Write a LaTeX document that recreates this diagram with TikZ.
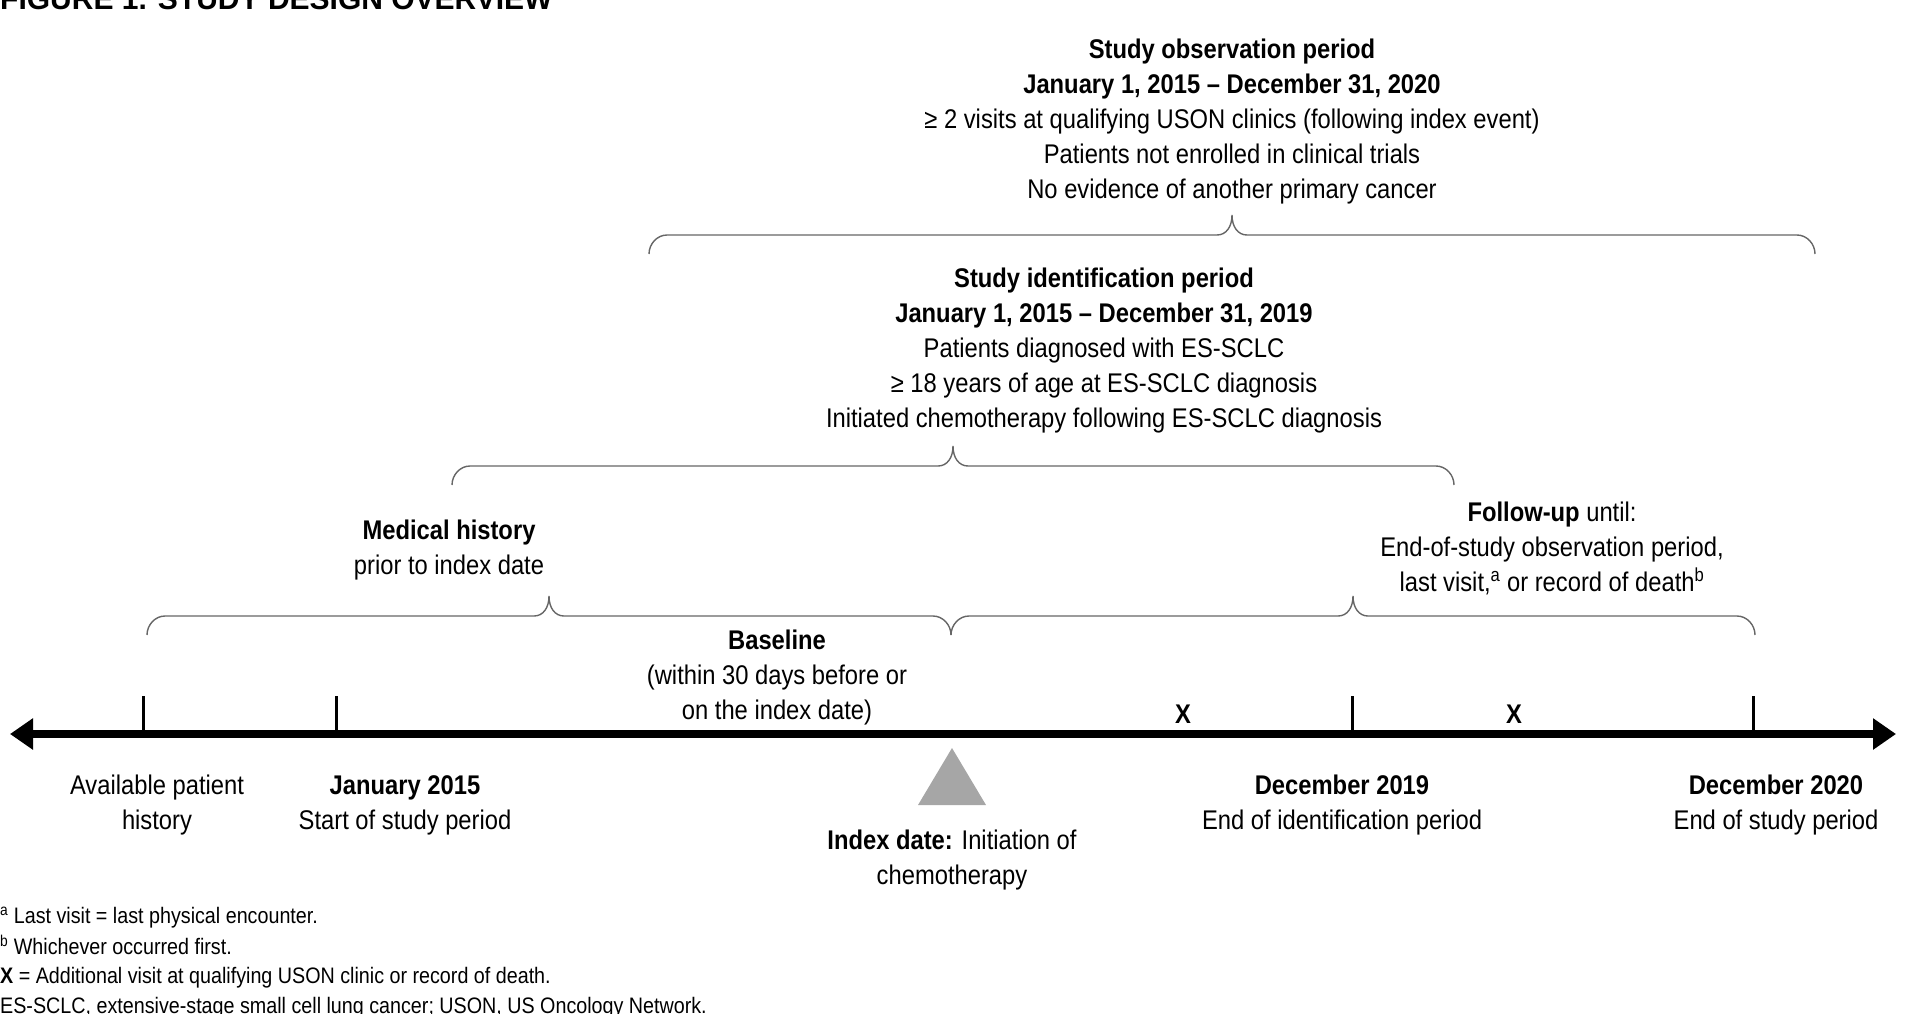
\documentclass[tikz,border=0pt]{standalone}
\usepackage{fontspec}
\setmainfont[FakeStretch=0.88]{Liberation Sans}
\newfontfamily\titlefont{Liberation Sans}
\usetikzlibrary{arrows.meta,calc}

\begin{document}
\begin{tikzpicture}[x=1pt,y=-1pt,
    txt/.style={align=center,inner sep=0pt,anchor=base,font=\fontsize{27}{35}\selectfont},
    note/.style={anchor=base west,inner sep=0pt,font=\fontsize{22.4}{30}\selectfont},
    brc/.style={draw=black!60,line width=1.4pt},
    tck/.style={line width=3pt},
    >={Triangle[length=23pt,width=30pt]}]

    \useasboundingbox (0,0) rectangle (1916,1013);

    % title (cut at the top edge)
    \node[anchor=base west,inner sep=0pt,font=\titlefont\bfseries\fontsize{30}{30}\selectfont] (title) at (0,9) {FIGURE 1. STUDY DESIGN OVERVIEW};

    % time axis
    \coordinate (ax1) at (10,734);
    \coordinate (ax2) at (1896,734);
    \coordinate (t1) at (143,734);
    \coordinate (t2) at (336,734);
    \coordinate (idx) at (952,734);
    \coordinate (t3) at (1352,734);
    \coordinate (t4) at (1753,734);
    \draw[line width=8pt,<->] (ax1) -- (ax2);
    \foreach \t in {t1,t2,t3,t4}
        \draw[tck] (\t) -- ++(0,-38);
    \node[inner sep=0pt,font=\bfseries\fontsize{27}{27}\selectfont] (x1) at (1183,714) {X};
    \node[inner sep=0pt,font=\bfseries\fontsize{27}{27}\selectfont] (x2) at (1514,714) {X};
    \fill[black!35] ($(idx)+(0,14)$) -- ++(34,57) -- ++(-68,0) -- cycle;

    % braces
    \coordinate (b1) at (147,635);
    \coordinate (b2) at (951,635);
    \coordinate (b3) at (1755,635);
    \coordinate (m1) at (452,485);
    \coordinate (m2) at (1454,485);
    \coordinate (o1) at (649,254);
    \coordinate (o2) at (1815,254);
    \foreach \a/\b in {b1/b2,b2/b3,m1/m2,o1/o2}
        \draw[brc] let \p1=(\a), \p2=(\b), \n1={(\x1+\x2)/2} in
            (\p1) .. controls (\x1,\y1+10pt) and (\x1+8pt,\y1+19pt) .. (\x1+18pt,\y1+19pt)
            -- (\n1-15pt,\y1+19pt)
            .. controls (\n1-6pt,\y1+19pt) and (\n1,\y1+27pt) .. (\n1,\y1+39pt)
            .. controls (\n1,\y1+27pt) and (\n1+6pt,\y1+19pt) .. (\n1+15pt,\y1+19pt)
            -- (\x2-18pt,\y2+19pt)
            .. controls (\x2-8pt,\y2+19pt) and (\x2,\y2+10pt) .. (\p2);

    % period texts (anchored at the last line)
    \node[txt] (obs) at (1232,198) {\textbf{Study observation period}\\
        \textbf{January 1, 2015 – December 31, 2020}\\
        ≥ 2 visits at qualifying USON clinics (following index event)\\
        Patients not enrolled in clinical trials\\
        No evidence of another primary cancer};
    \node[txt] (ident) at (1104,427) {\textbf{Study identification period}\\
        \textbf{January 1, 2015 – December 31, 2019}\\
        Patients diagnosed with ES-SCLC\\
        ≥ 18 years of age at ES-SCLC diagnosis\\
        Initiated chemotherapy following ES-SCLC diagnosis};
    \node[txt] (medhist) at (449,574) {\textbf{Medical history}\\prior to index date};
    \node[txt] (follow) at (1552,591) {\textbf{Follow-up} until:\\
        End-of-study observation period,\\
        last visit,\textsuperscript{a} or record of death\textsuperscript{b}};
    \node[txt] (base) at (777,719) {\textbf{Baseline}\\(within 30 days before or\\on the index date)};

    % axis labels
    \node[txt] (avail) at (157,829) {Available patient\\history};
    \node[txt] (jan15) at (405,829) {\textbf{January 2015}\\Start of study period};
    \node[txt] (index) at (952,884) {\textbf{Index date:} Initiation of\\chemotherapy};
    \node[txt] (dec19) at (1342,829) {\textbf{December 2019}\\End of identification period};
    \node[txt] (dec20) at (1776,829) {\textbf{December 2020}\\End of study period};

    % footnotes
    \node[note] (fn1) at (0,923) {\textsuperscript{a} Last visit = last physical encounter.};
    \node[note] (fn2) at (0,954) {\textsuperscript{b} Whichever occurred first.};
    \node[note] (fn3) at (0,983) {\textbf{X} = Additional visit at qualifying USON clinic or record of death.};
    \node[note] (fn4) at (0,1013) {ES-SCLC, extensive-stage small cell lung cancer; USON, US Oncology Network.};
\end{tikzpicture}
\end{document}
